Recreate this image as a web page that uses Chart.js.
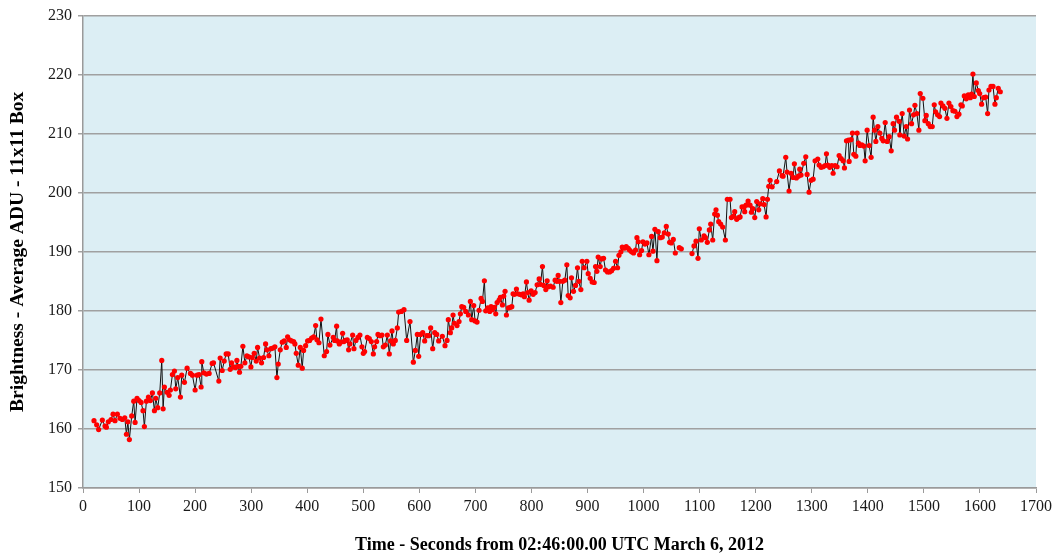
<!DOCTYPE html>
<html><head><meta charset="utf-8">
<script src="https://cdn.jsdelivr.net/npm/chart.js@4"></script>
<style>html,body{margin:0;padding:0;background:#fff}</style>
</head><body>
<canvas id="c" width="1062" height="559"></canvas>
<script>
const timeSec = [
19.6,24.4,27.9,34.5,39.3,41.7,45.2,50,53.6,57.1,61.3,66,70.2,74.5,77.5,80,82.7,86.9,90.5,92.9,96.4,100,103.6,107.1,109.5,113.1,116.7,120.2,123.8,127.4,129.8,133.3,136.9,140.5,142.9,145.2,150,153.6,155.9,159.5,163.1,165.5,169,173.8,176.2,181,185.7,191.7,195.2,200,203.6,207.1,210.7,211.9,215.5,220.2,225,
230.4,232.8,242.3,244.7,248.3,251.9,255.4,259,262.6,265,268.5,272.1,274.5,276.9,279.2,281.6,285.2,288.8,292.3,295.9,299.5,301.9,305.4,309,311.4,315,318.5,322.1,325.7,328,331.6,335.2,338.8,342.3,345.9,348.3,351.9,355.4,359,362.6,365,368.5,372.1,375.7,378,380.4,384,387.6,391.1,393.5,397.1,400.7,404.2,407.8,411.4,415,417.3,420.9,424.5,430.4,
434.5,436.9,440.5,446.4,448.8,452.4,453.6,457.2,459.5,463.1,465.5,467.9,471.4,473.8,476.2,481,483.3,486.9,490.5,494,497.6,500,502.4,507.2,510.7,514.3,517.9,520.2,523.8,526.2,529.8,533.3,535.7,539.3,542.9,546.4,548.8,551.2,553.6,557.1,560.7,563.1,567.9,572.6,577.4,583.3,589.3,592.9,596.4,598.8,602.4,606,609.5,613.1,616.7,620.2,623.8,627.4,631,634.5,
641,645.8,649.4,651.7,655.3,657.7,660.1,662.5,667.2,670.8,673.2,675.6,679.1,682.7,687.5,691,693.4,697,699.4,702.9,706.5,710.1,712.5,716,718.4,722,725.6,727.9,730.3,733.9,736.3,738.7,742.2,744.6,748.2,750.6,752.9,755.3,758.9,762.5,764.9,767.2,769.6,773.2,775.6,779.1,782.7,785.1,787.5,791,793.4,795.8,799.4,803,806.5,810.1,813.7,816,819.6,822,825.6,828,830.3,833.9,838.7,842.2,
845.2,847.6,850,852.4,856,859.5,863.1,865.5,869,871.4,875,878.6,882.1,884.5,888.1,890.5,894,898.8,901.2,904.8,908.3,911.9,914.3,916.7,919,922.6,925,928.6,932.1,935.7,939.3,942.9,946.4,950,953.6,956,959.5,961.9,965.5,969,972.6,975,978.6,982.1,985.7,988.1,990.5,992.9,996.4,998.8,1002.4,1006,1009.5,1014.3,1016.7,1020.2,1023.8,1026.2,1029.8,1033.3,1036.9,1040.5,1044,1046.4,
1049.4,1053,1056.6,1060,1063.7,1067.3,1076,1086.4,1089.9,1093.5,1097.1,1099.4,1103,1107.8,1110.2,1113.7,1117.3,1119.7,1123.3,1126.8,1129.2,1131.6,1134,1137.5,1141.1,1145.9,1149.4,1154.2,1156.6,1160.2,1162.5,1166.1,1169.7,1172.1,1175.6,1179.2,1180.4,1182.8,1186.4,1189.9,1192.3,1194.7,1198.3,1201.8,1205.4,1207.8,1212.6,1215,1218.5,1220.9,1223.3,1225.7,1229.3,1237.5,1242.3,1247.1,
1248.8,1253.6,1255.9,1259.5,1263.1,1266.7,1269,1272.6,1276.2,1278.6,1280.9,1285.7,1289.3,1291.7,1295.2,1298.8,1302.4,1305.9,1310.7,1313.1,1316.7,1320.2,1323.8,1326.2,1328.6,1332.1,1335.7,1338.1,1341.7,1345.2,1348.8,1352.4,1356,1358.3,1361.9,1365.5,1366.7,1370.2,1372.6,1375,1378.6,1381,1383.3,1385.7,1389.3,1392.9,1395.2,1398.8,1402.4,1405.9,1409.5,1411.9,1414.3,1417.9,1421.4,1425,1427.4,1431,1434.5,1438.1,1441.7,1445.2,1447.6,1451.2,1455.9,1457.1,
1461.3,1464.9,1468.5,1470.9,1474.4,1478,1481.6,1484,1487.5,1491.1,1493.5,1498.2,1501.8,1504.2,1507.8,1511.3,1514.9,1518.5,1520.9,1524.4,1528,1530.4,1534,1537.5,1541.1,1544.7,1548.2,1551.8,1555.4,1559,1562.5,1566.1,1568.5,1572.1,1575.6,1579.2,1582.8,1585.2,1587.5,1589.9,1593.5,1597.1,1599.5,1603,1606.6,1610.2,1613.7,1616.1,1619.7,1623.3,1626.8,1629.2,1632.7,1636.3
];
const brightness = [
161.4,160.7,159.9,161.5,160.5,160.3,161.2,161.6,162.5,161.4,162.5,161.8,161.6,161.9,159.1,161.2,158.2,162.2,164.7,161.1,165.2,164.8,164.5,163.1,160.4,164.7,165.4,164.8,166.1,163.1,165.2,163.6,166.1,171.6,163.4,167.1,166.2,165.7,166.6,169.2,169.8,166.8,168.7,165.4,169.1,167.9,170.3,169.4,169.1,166.6,169.1,169.2,167.1,171.4,169.5,169.3,169.4,
171.1,171.2,168.1,172.0,169.9,171.5,172.7,172.7,170.1,171.2,170.5,170.4,171.6,170.6,169.6,170.6,174.0,171.2,172.4,172.2,170.5,172.1,172.8,171.5,173.8,172.0,171.2,172.1,174.4,173.4,172.4,173.6,173.7,173.9,168.7,171.0,173.4,174.7,174.9,173.8,175.6,175.1,174.9,174.8,174.4,172.8,170.8,173.8,170.3,173.3,174.1,174.9,175.0,175.4,175.6,177.5,175.1,174.6,178.6,172.4,
173.1,176.0,174.2,175.5,175.0,177.4,174.9,174.4,174.7,176.2,174.8,175.0,175.1,173.4,174.4,175.9,173.6,175.0,175.5,175.9,173.9,172.8,173.1,175.5,175.3,174.8,172.7,173.9,174.8,176.0,175.8,175.9,173.9,174.2,175.9,172.7,174.9,176.6,174.4,175.0,177.1,179.8,179.9,180.2,175.0,178.2,171.3,173.3,176.0,172.3,176.0,176.3,174.9,175.8,175.8,177.1,173.6,176.3,176.0,174.9,
175.7,174.1,175.0,178.5,176.3,177.1,179.3,177.9,177.5,178.2,179.5,180.7,180.6,179.9,179.3,181.6,178.5,180.9,178.3,178.1,180.1,182.1,181.6,185.1,180.0,180.5,179.9,180.7,180.2,180.6,179.5,181.4,181.8,182.3,181.0,182.5,183.3,179.3,180.5,180.6,180.7,182.9,182.8,183.7,182.9,182.8,182.7,182.9,182.4,184.9,183.1,181.8,183.4,182.8,183.1,184.4,185.4,184.5,187.5,184.3,183.6,185.1,184.1,184.2,184.0,185.2,
185.0,186.0,185.0,181.4,185.0,185.2,187.8,182.6,182.2,185.6,183.3,184.3,187.3,185.0,183.6,188.4,187.3,188.4,186.3,185.5,184.9,184.8,187.5,186.7,189.1,187.5,188.8,188.9,186.9,186.6,186.6,186.8,187.2,188.4,187.3,189.4,190.0,190.8,190.6,190.9,190.6,190.3,190.0,189.8,190.3,192.4,191.7,189.5,190.2,191.7,191.3,191.5,189.5,192.6,190.1,193.8,188.5,193.4,192.4,192.5,193.2,194.3,193.0,191.6,
191.5,192.1,189.8,null,190.7,190.5,null,189.7,191.0,191.8,188.9,193.9,192.0,192.7,192.4,191.6,193.7,194.7,192.0,196.4,197.1,196.2,195.1,194.7,194.2,192.0,198.9,198.9,195.8,196.0,196.8,195.5,195.8,195.9,197.6,197.6,196.8,197.9,198.6,197.9,196.7,197.3,195.8,198.5,197.1,198.1,199.0,198.0,195.9,198.9,201.1,202.1,201.0,201.9,203.7,202.9,
202.8,206.0,203.5,200.3,203.3,202.6,204.9,202.5,202.8,204.0,203.0,205.0,206.1,203.1,200.1,202.1,202.3,205.4,205.7,204.7,204.3,204.4,204.6,206.6,204.7,204.3,204.6,203.3,204.6,204.4,206.3,205.8,205.4,204.2,208.8,208.9,205.3,209.0,210.1,206.5,206.2,210.1,208.4,208.0,208.1,207.9,205.4,210.6,208.0,206.0,212.8,210.6,208.7,211.2,210.1,209.2,208.8,211.9,208.7,209.5,207.1,211.7,210.6,212.8,212.1,209.8,
213.4,209.6,211.2,209.1,214.0,211.7,213.2,214.8,213.4,210.6,216.8,216.0,212.2,213.1,211.7,211.2,211.2,214.9,213.7,213.2,212.9,215.2,214.7,214.3,212.6,215.2,214.6,213.9,213.8,212.9,213.3,214.9,214.7,216.4,215.9,216.6,216.1,216.7,220.1,216.3,218.6,217.3,216.8,215.0,216.1,216.2,213.4,217.4,218.0,218.0,215.0,216.1,217.7,217.1
];
const xAxisRange = [0, 1700, 100];
const yAxisRange = [150, 230, 10];
const xTitle = 'Time - Seconds from 02:46:00.00 UTC March 6, 2012';
const yTitle = 'Brightness - Average ADU - 11x11 Box';

const points = timeSec.map((t, i) => ({x: t, y: brightness[i]}));
const serif = "'Liberation Serif','Times New Roman',serif";

const bgPlugin = {
  id: 'plotBg',
  beforeDraw(chart) {
    const {ctx, chartArea: a} = chart;
    ctx.save();
    ctx.fillStyle = '#DCEEF4';
    ctx.fillRect(a.left, a.top, a.right - a.left, a.bottom - a.top);
    ctx.restore();
  }
};

new Chart(document.getElementById('c'), {
  type: 'line',
  data: {
    datasets: [{
      data: points,
      borderColor: '#111111',
      borderWidth: 1,
      pointRadius: 2.6,
      pointBackgroundColor: '#FF0000',
      pointBorderColor: '#FF0000',
      pointBorderWidth: 0,
      tension: 0,
      spanGaps: false,
      fill: false
    }]
  },
  options: {
    responsive: false,
    animation: false,
    layout: {padding: {top: 14, right: 26, left: 0, bottom: 0}},
    plugins: {legend: {display: false}, tooltip: {enabled: false}},
    scales: {
      x: {
        type: 'linear',
        min: xAxisRange[0], max: xAxisRange[1],
        afterFit(s) { s.height = 71; },
        ticks: {stepSize: xAxisRange[2], color: '#1a1a1a', font: {family: serif, size: 16}, padding: 4, maxRotation: 0,
                callback: v => String(v)},
        grid: {drawOnChartArea: false, drawTicks: true, tickLength: 5, color: '#9a9a9a'},
        border: {color: '#9a9a9a', width: 1.5},
        title: {display: true, text: xTitle, color: '#000', font: {family: serif, size: 18, weight: 'bold'}, padding: {top: 0, bottom: 3}}
      },
      y: {
        min: yAxisRange[0], max: yAxisRange[1],
        afterFit(s) { s.width = 83; },
        ticks: {stepSize: yAxisRange[2], color: '#1a1a1a', font: {family: serif, size: 16}, padding: 6,
                callback: v => String(v)},
        grid: {color: '#a0a0a0', lineWidth: 1.5, drawTicks: true, tickLength: 5},
        border: {color: '#9a9a9a', width: 1.5},
        title: {display: true, text: yTitle, color: '#000', font: {family: serif, size: 19.5, weight: 'bold'}, padding: {top: 6, bottom: 0}}
      }
    }
  },
  plugins: [bgPlugin]
});
</script>
</body></html>
